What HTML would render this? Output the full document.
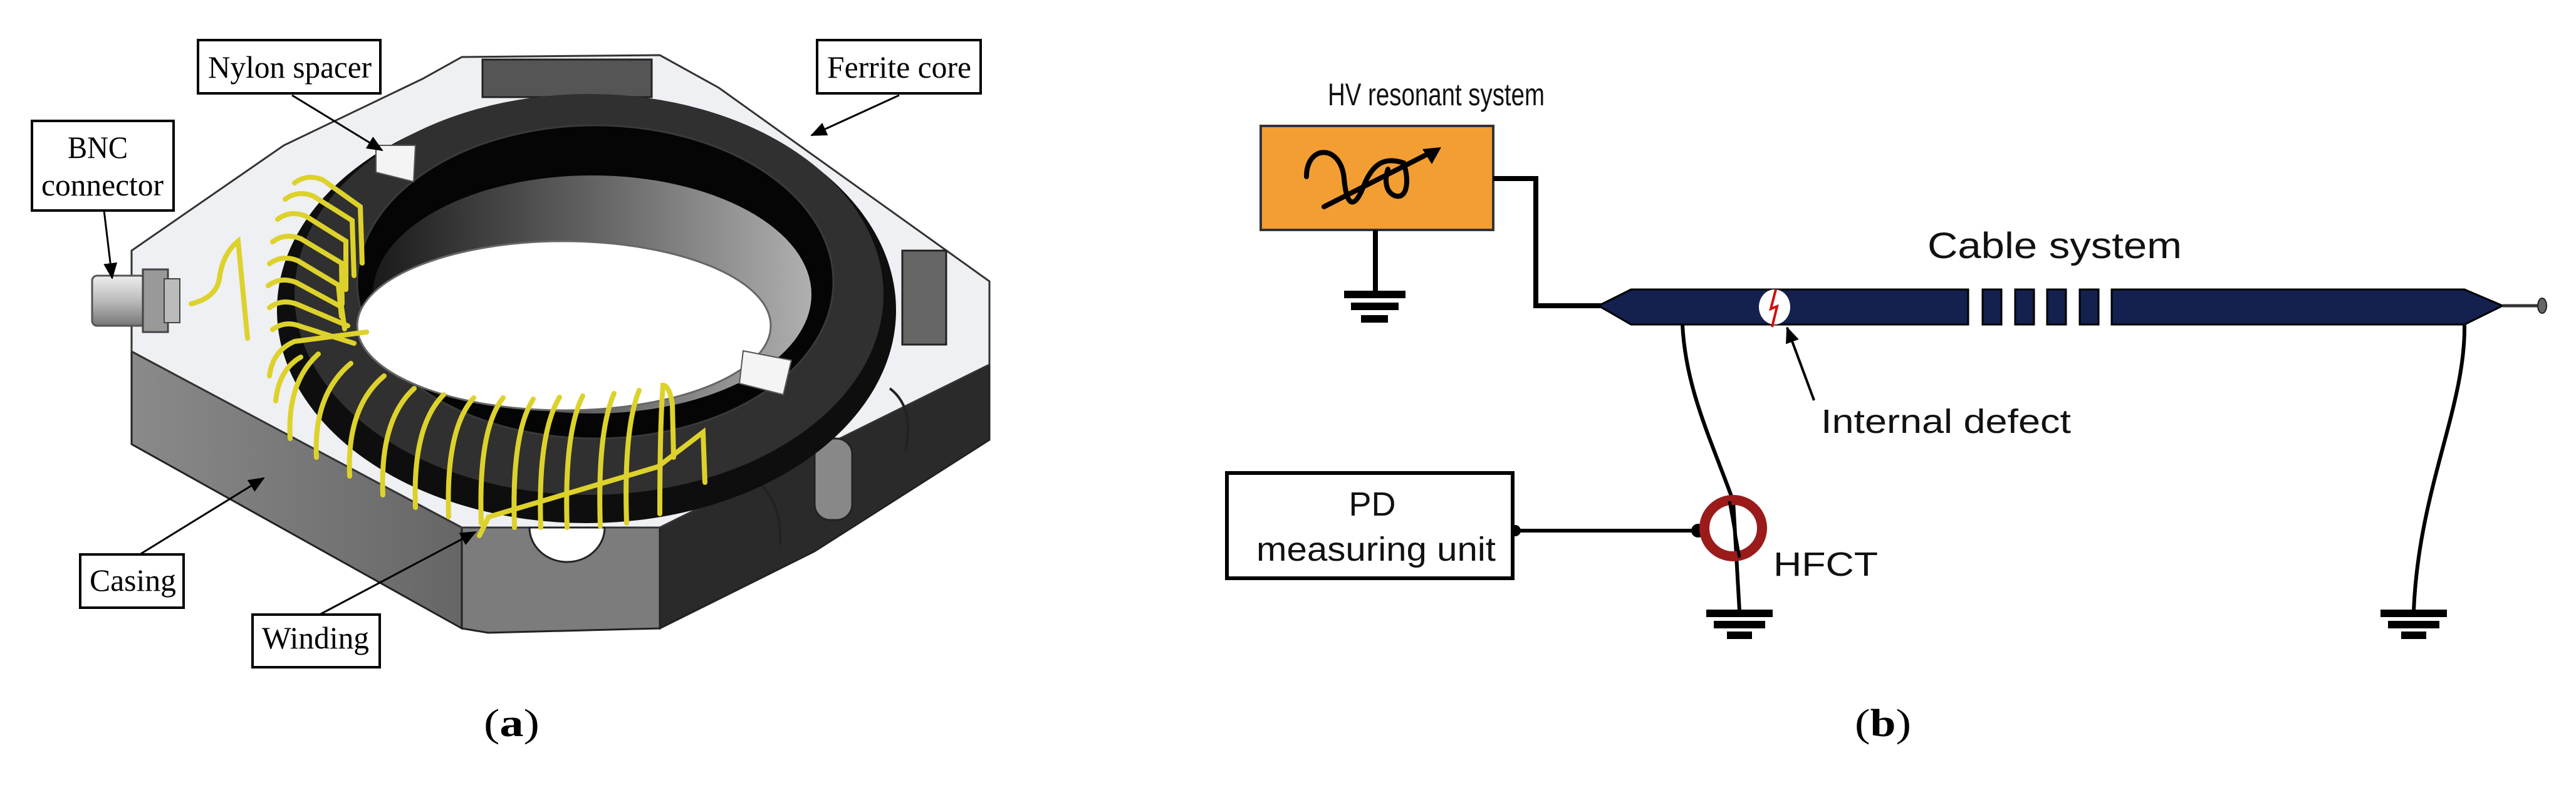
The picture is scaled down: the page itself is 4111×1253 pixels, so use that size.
<!DOCTYPE html>
<html><head><meta charset="utf-8"><style>
html,body{margin:0;padding:0;background:#fff;}
svg{display:block;}
</style></head><body>
<svg width="4111" height="1253" viewBox="0 0 4111 1253" xmlns="http://www.w3.org/2000/svg">
<defs>
<marker id="ah2" markerWidth="26" markerHeight="22" refX="24" refY="11" orient="auto" markerUnits="userSpaceOnUse">
<path d="M0,0 L26,11 L0,22 z" fill="#000"/></marker>
<linearGradient id="wall" x1="0" x2="1"><stop offset="0" stop-color="#1a1a1a"/><stop offset="0.55" stop-color="#6a6a6a"/><stop offset="1" stop-color="#b0b0b0"/></linearGradient>
<linearGradient id="bnc" x1="0" y1="0" x2="0" y2="1"><stop offset="0" stop-color="#eee"/><stop offset="0.5" stop-color="#bbb"/><stop offset="1" stop-color="#777"/></linearGradient>
<linearGradient id="side" x1="0" y1="0" x2="1" y2="0"><stop offset="0" stop-color="#8a8a8a"/><stop offset="1" stop-color="#666"/></linearGradient>
</defs>

<!-- ===== Panel (a) device ===== -->
<polygon points="210,561 737,842 737,1003 210,709" fill="url(#side)" stroke="#222" stroke-width="3"/>
<polygon points="737,842 1053,842 1053,1003 779,1010 737,1003" fill="#7c7c7c" stroke="#222" stroke-width="3"/>
<polygon points="1053,842 1579,582 1579,702 1300,880 1053,1003" fill="#2a2a2a" stroke="#222" stroke-width="3"/>
<polygon points="210,561 210,400 453,232 674,126 737,91 1053,88 1147,140 1579,449 1579,582 1053,842 737,842" fill="#eef0f3" stroke="#333" stroke-width="3"/>
<rect x="770" y="95" width="270" height="60" fill="#555" stroke="#222" stroke-width="3"/>
<rect x="1440" y="400" width="70" height="150" fill="#666" stroke="#222" stroke-width="3"/>
<path d="M845,842 a60,55 0 0 0 120,0 z" fill="#fff" stroke="#222" stroke-width="3"/>
<rect x="1300" y="700" width="60" height="130" rx="25" fill="#888" stroke="#222" stroke-width="3"/>
<path d="M1200,760 q50,40 45,110" fill="none" stroke="#222" stroke-width="4"/>
<path d="M1420,620 q40,30 25,100" fill="none" stroke="#222" stroke-width="4"/>
<!-- ferrite ring -->
<ellipse cx="936" cy="495" rx="494" ry="340" fill="#0e0e0e"/>
<ellipse cx="940" cy="470" rx="470" ry="320" fill="#303030"/>
<ellipse cx="950" cy="450" rx="380" ry="250" fill="#050505" stroke="#3a3a3a" stroke-width="3"/>
<ellipse cx="945" cy="470" rx="350" ry="190" fill="url(#wall)"/>
<ellipse cx="900" cy="520" rx="330" ry="135" fill="#fff" stroke="#666" stroke-width="3"/>
<polygon points="600,232 663,232 660,290 600,275" fill="#f4f4f4" stroke="#555" stroke-width="2"/>
<polygon points="1186,560 1263,575 1250,630 1180,612" fill="#f4f4f4" stroke="#555" stroke-width="2"/>
<!-- windings -->
<g stroke="#ddd22c" stroke-width="8" fill="none" stroke-linecap="round">
<path d="M470,292 q20,-15 45,-5 L575,330 L578,420"/>
<path d="M455,318 q20,-15 45,-5 L562,352 L565,440"/>
<path d="M443,350 q20,-15 45,-5 L552,385 L552,462"/>
<path d="M435,386 q20,-15 45,-5 L545,420 L546,485"/>
<path d="M430,421 q20,-15 45,-5 L540,455 L545,505"/>
<path d="M428,456 q20,-15 45,-5 L545,490 L550,525"/>
<path d="M430,491 q20,-15 45,-5 L555,520"/>
<path d="M435,526 q20,-15 45,-5 L565,548"/>
<path d="M430,600 q5,-40 40,-55 L585,530"/>
<path d="M440,640 q5,-50 40,-70"/>
<path d="M463,700 q-5,-90 45,-135"/>
<path d="M505,730 q-5,-100 55,-150"/>
<path d="M558,760 q-5,-110 55,-160"/>
<path d="M611,790 q-5,-120 50,-170"/>
<path d="M663,810 q-5,-130 45,-180"/>
<path d="M716,825 q-5,-140 40,-190"/>
<path d="M768,835 q-5,-150 35,-200"/>
<path d="M821,842 q-5,-150 30,-205"/>
<path d="M863,842 q-5,-150 30,-208"/>
<path d="M905,842 q-5,-150 25,-210"/>
<path d="M958,840 q-5,-150 22,-212"/>
<path d="M1000,835 q-5,-150 20,-212"/>
<path d="M1053,820 q0,-140 5,-205 q10,0 15,30 L1075,730"/>
<path d="M765,855 L780,825 L1050,745 L1122,690 L1125,770"/>
<path d="M305,485 q40,-10 45,-40 q5,-40 30,-60 L395,540"/>
</g>
<rect x="147" y="440" width="85" height="80" rx="8" fill="url(#bnc)" stroke="#555" stroke-width="3"/>
<rect x="228" y="430" width="40" height="100" fill="#999" stroke="#444" stroke-width="3"/>
<rect x="262" y="445" width="25" height="70" fill="#bbb" stroke="#444" stroke-width="2"/>

<!-- labels (a) -->
<g font-family="Liberation Serif, serif" font-size="50" fill="#000">
<rect x="316" y="64" width="291" height="85" fill="#fff" stroke="#000" stroke-width="4"/>
<text x="332" y="124" textLength="261" lengthAdjust="spacingAndGlyphs">Nylon spacer</text>
<rect x="1304" y="64" width="261" height="85" fill="#fff" stroke="#000" stroke-width="4"/>
<text x="1320" y="124" textLength="230" lengthAdjust="spacingAndGlyphs">Ferrite core</text>
<rect x="51" y="193" width="226" height="143" fill="#fff" stroke="#000" stroke-width="4"/>
<text x="108" y="252" textLength="96" lengthAdjust="spacingAndGlyphs">BNC</text>
<text x="66" y="312" textLength="195" lengthAdjust="spacingAndGlyphs">connector</text>
<rect x="128" y="885" width="165" height="85" fill="#fff" stroke="#000" stroke-width="4"/>
<text x="143" y="943" textLength="138" lengthAdjust="spacingAndGlyphs">Casing</text>
<rect x="403" y="981" width="203" height="84" fill="#fff" stroke="#000" stroke-width="4"/>
<text x="418" y="1035" textLength="171" lengthAdjust="spacingAndGlyphs">Winding</text>
<text x="772" y="1175" font-size="62" textLength="89" lengthAdjust="spacingAndGlyphs">(<tspan font-weight="bold">a</tspan>)</text>
</g>
<g stroke="#000" stroke-width="3" fill="none">
<line x1="466" y1="152" x2="610" y2="240" marker-end="url(#ah2)"/>
<line x1="1435" y1="152" x2="1295" y2="216" marker-end="url(#ah2)"/>
<line x1="166" y1="336" x2="179" y2="444" marker-end="url(#ah2)"/>
<line x1="223" y1="885" x2="421" y2="763" marker-end="url(#ah2)"/>
<line x1="510" y1="981" x2="759" y2="849" marker-end="url(#ah2)"/>
</g>

<!-- ===== Panel (b) ===== -->
<g font-family="Liberation Sans, Arial, sans-serif" fill="#111">
<text x="2119" y="168" font-size="50" textLength="346" lengthAdjust="spacingAndGlyphs">HV resonant system</text>
<text x="3076" y="412" font-size="58" textLength="406" lengthAdjust="spacingAndGlyphs">Cable system</text>
<text x="2906" y="691" font-size="54" textLength="399" lengthAdjust="spacingAndGlyphs">Internal defect</text>
<text x="2830" y="919" font-size="54" textLength="167" lengthAdjust="spacingAndGlyphs">HFCT</text>
</g>
<text x="2960" y="1175" font-family="Liberation Serif, serif" font-size="62" textLength="90" lengthAdjust="spacingAndGlyphs">(<tspan font-weight="bold">b</tspan>)</text>

<rect x="2012" y="201" width="371" height="166" fill="#f29e33" stroke="#333" stroke-width="4"/>
<g stroke="#000" stroke-width="8" fill="none" stroke-linecap="round">
<path d="M2085,282 C2085,230 2140,230 2145,285 C2150,340 2165,325 2175,300 C2190,260 2210,250 2240,260 C2250,290 2245,320 2225,312 C2210,305 2210,285 2215,270"/>
<line x1="2113" y1="330" x2="2290" y2="240"/>
</g>
<path d="M2300,235 L2270,238 L2285,262 z" fill="#000"/>
<g stroke="#000" stroke-width="8" fill="none">
<line x1="2195" y1="367" x2="2195" y2="470"/>
<polyline points="2383,285 2451,285 2451,488 2560,488"/>
</g>
<g fill="#000">
<rect x="2145" y="464" width="98" height="12"/>
<rect x="2156" y="483" width="76" height="12"/>
<rect x="2172" y="503" width="43" height="12"/>
</g>
<g fill="#14204e" stroke="#000" stroke-width="3">
<polygon points="2551,488 2603,462 3141,462 3141,518 2603,518"/>
<rect x="3164" y="462" width="30" height="56"/>
<rect x="3216" y="462" width="30" height="56"/>
<rect x="3267" y="462" width="30" height="56"/>
<rect x="3319" y="462" width="30" height="56"/>
<polygon points="3370,462 3933,462 3994,488 3933,518 3370,518"/>
</g>
<line x1="3994" y1="488" x2="4055" y2="488" stroke="#333" stroke-width="5"/>
<ellipse cx="4057" cy="488" rx="7" ry="12" fill="#666" stroke="#222" stroke-width="2"/>
<ellipse cx="2832" cy="490" rx="25" ry="28" fill="#fff"/>
<path d="M2834,462 L2826,493 L2836,489 L2828,522" stroke="#d01010" stroke-width="4" fill="none"/>
<line x1="2895" y1="639" x2="2852" y2="523" stroke="#000" stroke-width="4" marker-end="url(#ah2)"/>
<g stroke="#000" stroke-width="6" fill="none">
<path d="M2685,518 C2690,620 2730,700 2766,800 L2776,975"/>
<path d="M3933,518 C3935,650 3860,780 3852,975"/>
<line x1="2414" y1="847" x2="2713" y2="847"/>
</g>
<g fill="#000">
<rect x="2723" y="973" width="106" height="12"/>
<rect x="2735" y="991" width="82" height="12"/>
<rect x="2756" y="1008" width="40" height="12"/>
<rect x="3799" y="973" width="106" height="12"/>
<rect x="3811" y="991" width="82" height="12"/>
<rect x="3832" y="1008" width="40" height="12"/>
<circle cx="2418" cy="847" r="9"/>
<circle cx="2710" cy="847" r="11"/>
</g>
<ellipse cx="2766" cy="843" rx="46" ry="45" fill="none" stroke="#9b1b1b" stroke-width="16"/>
<line x1="2760" y1="800" x2="2776" y2="890" stroke="#000" stroke-width="5"/>
<rect x="1958" y="755" width="456" height="168" fill="#fff" stroke="#000" stroke-width="6"/>
<text x="2190" y="823" font-family="Liberation Sans, Arial, sans-serif" font-size="54" text-anchor="middle" fill="#111">PD</text>
<text x="2005" y="895" font-family="Liberation Sans, Arial, sans-serif" font-size="54" textLength="382" lengthAdjust="spacingAndGlyphs" fill="#111">measuring unit</text>
</svg>
</body></html>
